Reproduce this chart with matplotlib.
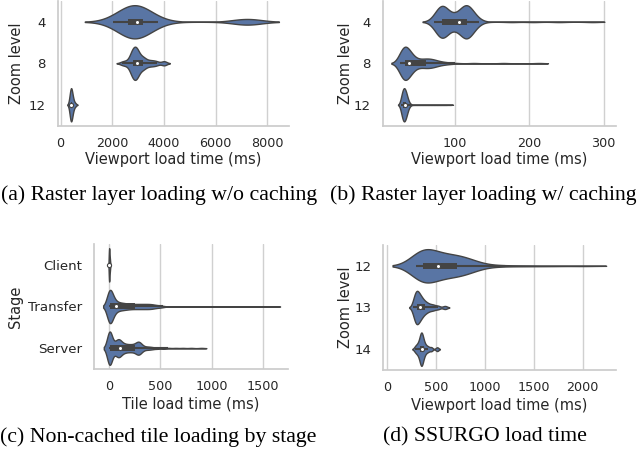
import numpy as np
import matplotlib
matplotlib.use("Agg")
import matplotlib.pyplot as plt
import seaborn as sns

# load times in ms.
# long-tailed groups are given as value + how many samples had it

# (a) raster layer, no caching
a_levels = ["4", "8", "12"]
a4_ms = [2040, 2200, 2320, 2400, 2460, 2510, 2550, 2580, 2600, 2615, 2630, 2680,
         2720, 2760, 2800, 2840, 2880, 2910, 2930, 2940, 2950, 2980, 3010, 3040,
         3070, 3100, 3130, 3160, 3185, 3195, 3210, 3350, 3500, 3650, 3781,
         7050, 7150, 7250, 7300, 7350]
a8_ms = [2370, 2480, 2580, 2660, 2720, 2750, 2765, 2775, 2780, 2785, 2790, 2810,
         2840, 2860, 2880, 2895, 2905, 2915, 2925, 2935, 2950, 2960, 2975, 2990,
         3010, 3040, 3080, 3120, 3160, 3190, 3210, 3260, 3320, 3400, 3480, 3560,
         3650, 3750, 3980, 4030]
a12_ms = [340, 355, 365, 372, 378, 384, 390, 395, 400, 404, 408, 412, 416, 420,
          425, 430, 436, 442, 450, 460, 470, 485, 500, 530, 580]
a_bw = [550, 100, 40]

# (b) raster layer, with caching
b_levels = ["4", "8", "12"]
b4_ms = [72, 75, 78, 80, 82, 84, 87, 90, 95, 100, 105, 108, 111, 114, 116, 118,
         120, 124, 128, 132, 176, 205, 240, 285]
b4_n = [2, 4, 7, 10, 11, 10, 6, 5, 5, 5, 5, 6, 8, 10, 10, 9, 7, 5, 3, 2, 1, 1, 1, 1]
b8_ms = [26, 28, 30, 32, 34, 36, 38, 40, 43, 46, 50, 55, 60, 65, 70, 75, 82, 90,
         100, 125, 165, 213]
b8_n = [4, 9, 16, 10, 9, 8, 7, 6, 5, 4, 4, 5, 6, 6, 5, 4, 3, 2, 1, 1, 1, 1]
b12_ms = [27, 28, 29, 30, 31, 32, 33, 34, 35, 36, 38, 40, 44, 48, 52, 56, 60, 64,
          68, 72, 76, 80, 84, 88, 93]
b12_n = [9, 15, 18, 21, 24, 21, 18, 15, 12, 9, 5, 1, 1, 1, 1, 1, 1, 1,
         1, 1, 1, 1, 1, 1, 1]
b_bw = [8, 6, 2]

# (c) non-cached tile loading by stage
c_stages = ["Client", "Transfer", "Server"]
client_ms = [0, 1, 1, 2, 2, 3, 3, 4, 4, 5, 5, 5, 6, 6, 7, 7, 8, 9, 10, 11, 12, 14]
transfer_ms = [0, 3, 6, 9, 12, 16, 20, 25, 30, 40, 50, 60, 75, 90, 110, 130, 150,
               175, 200, 230, 260, 290, 320, 350, 380, 410, 440, 470, 500, 530,
               650, 900, 1250, 1610]
transfer_n = [9, 9, 8, 7, 6, 5, 4, 4, 4, 4, 4, 4, 4, 4, 4, 4, 4,
              4, 4, 4, 4, 4, 4, 4, 4, 4, 3, 2, 2, 1,
              1, 1, 1, 1]
server_ms = [0, 4, 8, 12, 16, 20, 50, 65, 80, 95, 105, 120, 140, 160, 185, 210,
             235, 260, 280, 295, 310, 340, 380, 420, 470, 530, 580, 650, 720, 800, 900]
server_n = [12, 12, 12, 10, 8, 6, 4, 6, 8, 10, 8, 6, 6, 6, 6, 6,
            6, 6, 8, 8, 6, 4, 4, 3, 2, 2, 1, 1, 1, 1, 1]
c_bw = [2, 27, 24]

# (d) SSURGO
d_levels = ["12", "13", "14"]
d12_ms = [294, 310, 325, 340, 355, 370, 390, 410, 435, 460, 490, 520, 550, 580,
          610, 640, 670, 700, 730, 760, 790, 820, 860, 900, 950, 1020, 1100,
          1200, 1350, 1500, 1700, 2000]
d12_n = [4, 6, 7, 8, 7, 7, 6, 6, 6, 6, 6, 5, 5, 5,
         5, 5, 5, 5, 5, 5, 5, 4, 4, 3, 2, 1, 1,
         1, 1, 1, 1, 1]
d13_ms = [268, 275, 280, 285, 290, 294, 298, 302, 306, 310, 315, 320, 326, 332,
          338, 345, 352, 360, 370, 382, 395, 410, 430, 455, 480, 520, 590]
d14_ms = [284, 300, 312, 322, 330, 336, 340, 343, 346, 349, 352, 355, 358, 362,
          368, 375, 385, 400, 420, 450, 510]
d_bw = [120, 22, 14]

sns.set_theme(style="whitegrid")
plt.rcParams['font.family'] = ['DejaVu Sans']
plt.rcParams['xtick.labelsize'] = 9.2
plt.rcParams['ytick.labelsize'] = 9.6
plt.rcParams['axes.labelsize'] = 10.5
plt.rcParams['xtick.major.size'] = 0
plt.rcParams['ytick.major.size'] = 0
plt.rcParams['xtick.major.pad'] = 8
plt.rcParams['ytick.major.pad'] = 8.5

fill = "#4c72b0"
dark = "#444444"


def violins(ax, levels, samples, bws):
    for i, (lvl, s, bw) in enumerate(zip(levels, samples, bws)):
        s = np.asarray(s, dtype=float)
        sns.violinplot(x=s, y=[lvl] * len(s), order=levels, orient="h", ax=ax,
                       density_norm="width", cut=2, bw_method=bw / s.std(ddof=1),
                       inner=None, color=fill, linecolor=dark, linewidth=1.0,
                       width=0.8, gridsize=400)
        # old-style seaborn inner box
        q1, med, q3 = np.percentile(s, [25, 50, 75])
        iqr = q3 - q1
        lo = s[s >= q1 - 1.5 * iqr].min()
        hi = s[s <= q3 + 1.5 * iqr].max()
        ax.plot([lo, hi], [i, i], color=dark, lw=1.5, solid_capstyle="butt", zorder=3)
        ax.plot([q1, q3], [i, i], color=dark, lw=4.3, solid_capstyle="butt", zorder=3)
        ax.scatter([med], [i], s=9, color="white", edgecolor=dark, linewidth=0.8, zorder=4)
    ax.set_ylim(2.5, -0.5)
    ax.yaxis.grid(False)
    ax.xaxis.grid(True, color="#d0d0d0", lw=1.0)
    sns.despine(ax=ax)


fig = plt.figure(figsize=(6.39, 4.51), dpi=100)
ax_a = fig.add_axes([0.090, 0.7217, 0.3623, 0.2760])
ax_b = fig.add_axes([0.5989, 0.7217, 0.3651, 0.2760])
ax_c = fig.add_axes([0.1471, 0.1818, 0.3036, 0.2772])
ax_d = fig.add_axes([0.5998, 0.1796, 0.3642, 0.2772])

violins(ax_a, a_levels, [a4_ms, a8_ms, a12_ms], a_bw)
ax_a.set_xlim(-116, 8843)
ax_a.set_xticks([0, 2000, 4000, 6000, 8000])
ax_a.set_ylabel("Zoom level")
ax_a.set_xlabel("Viewport load time (ms)")
ax_a.yaxis.set_label_coords(-0.1438, 0.5)
ax_a.xaxis.set_label_coords(0.5, -0.209)

violins(ax_b, b_levels,
        [np.repeat(b4_ms, b4_n), np.repeat(b8_ms, b8_n), np.repeat(b12_ms, b12_n)],
        b_bw)
ax_b.set_xlim(2.3, 316.7)
ax_b.set_xticks([100, 200, 300])
ax_b.set_ylabel("Zoom level")
ax_b.set_xlabel("Viewport load time (ms)")
ax_b.yaxis.set_label_coords(-0.1252, 0.5)
ax_b.xaxis.set_label_coords(0.5, -0.209)

violins(ax_c, c_stages,
        [client_ms, np.repeat(transfer_ms, transfer_n), np.repeat(server_ms, server_n)],
        c_bw)
ax_c.set_xlim(-143, 1741)
ax_c.set_xticks([0, 500, 1000, 1500])
ax_c.set_ylabel("Stage")
ax_c.set_xlabel("Tile load time (ms)")
ax_c.yaxis.set_label_coords(-0.364, 0.5)
ax_c.xaxis.set_label_coords(0.5, -0.2216)

violins(ax_d, d_levels, [np.repeat(d12_ms, d12_n), d13_ms, d14_ms], d_bw)
ax_d.set_xlim(-41, 2341)
ax_d.set_xticks([0, 500, 1000, 1500, 2000])
ax_d.set_ylabel("Zoom level")
ax_d.set_xlabel("Viewport load time (ms)")
ax_d.yaxis.set_label_coords(-0.128, 0.5)
ax_d.xaxis.set_label_coords(0.5, -0.2264)

cap = dict(ha="center", va="center", family="Liberation Serif", size=15.7, color="black")
fig.text(159 / 639, 1 - 195 / 451, "(a) Raster layer loading w/o caching", **cap)
fig.text(483 / 639, 1 - 195 / 451, "(b) Raster layer loading w/ caching", **cap)
fig.text(158 / 639, 1 - 437 / 451, "(c) Non-cached tile loading by stage", **cap)
fig.text(485 / 639, 1 - 437 / 451, "(d) SSURGO load time", **cap)

fig.savefig("out.png", dpi=100)
